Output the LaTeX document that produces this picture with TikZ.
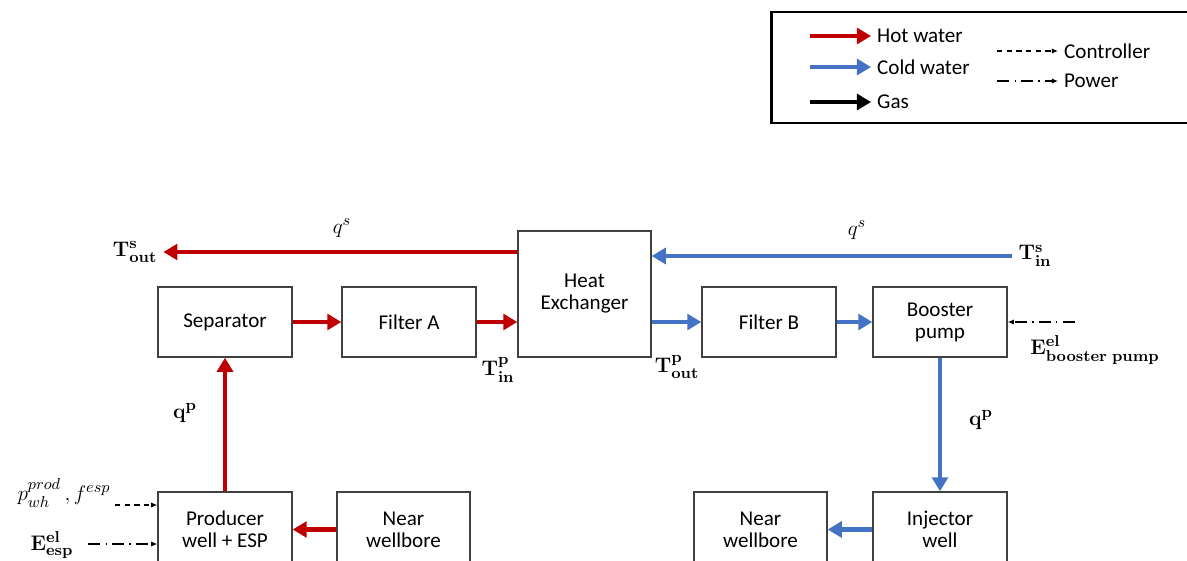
\documentclass[tikz,border=0pt]{standalone}
\usepackage[no-math]{fontspec}
\setmainfont{Carlito}
\usepackage{amsmath}
\usetikzlibrary{arrows.meta}

\definecolor{hotred}{RGB}{192,0,0}
\definecolor{coldblue}{RGB}{68,114,196}
\definecolor{boxline}{RGB}{64,64,64}

\begin{document}
\begin{tikzpicture}[x=0.02cm, y=-0.02cm,
    box/.style={draw=boxline, line width=0.8pt, fill=white, minimum width=2.68cm,
        minimum height=1.4cm, align=center, font=\fontsize{12}{12.5}\selectfont},
    hot/.style={draw=hotred, line width=2.4pt, -{Triangle[length=8pt,width=9pt]}},
    cold/.style={draw=coldblue, line width=2.4pt, -{Triangle[length=8pt,width=9pt]}},
    gas/.style={draw=black, line width=2.4pt, -{Triangle[length=8pt,width=9pt]}},
    ctrl/.style={draw=black, line width=0.8pt, dash pattern=on 3pt off 2.5pt, -{Latex[length=3.5pt,width=3pt]}},
    power/.style={draw=black, line width=0.8pt, dash pattern=on 7pt off 3pt on 0.6pt off 3pt, -{Latex[length=3.5pt,width=3pt]}},
    lbl/.style={font=\fontsize{13}{15}\selectfont},
    legtxt/.style={anchor=west, font=\fontsize{12}{14}\selectfont}]
    \useasboundingbox (0,0) rectangle (1187,561);

    % Legende
    \draw[line width=1.7pt] (771,12) rectangle (1240,123);
    \node[legtxt] (lhot) at (871,36) {Hot water};
    \node[legtxt] (lcold) at (871,67) {Cold water};
    \node[legtxt] (lgas) at (871,102) {Gas};
    \node[legtxt] (lctrl) at (1058,51) {Controller};
    \node[legtxt] (lpow) at (1058,81) {Power};
    \coordinate (lhot0) at (810,36);
    \coordinate (lcold0) at (810,67);
    \coordinate (lgas0) at (810,102);
    \coordinate (lctrl0) at (997,51);
    \coordinate (lpow0) at (997,81);
    \draw[hot] (lhot0) -- (lhot.west);
    \draw[cold] (lcold0) -- (lcold.west);
    \draw[gas] (lgas0) -- (lgas.west);
    \draw[ctrl] (lctrl0) -- (lctrl.west);
    \draw[power] (lpow0) -- (lpow.west);

    % Bloecke
    \node[box] (sep) at (225,322) {Separator};
    \node[box] (filtA) at (409,322) {Filter A};
    \node[box, minimum width=2.66cm, minimum height=2.52cm] (hx) at (584.5,294) {Heat\\Exchanger};
    \node[box] (filtB) at (769,322) {Filter B};
    \node[box] (boost) at (940,322) {Booster\\pump};
    \node[box, minimum height=1.5cm] (prod) at (225,529.5) {Producer\\well + ESP};
    \node[box, minimum width=2.66cm, minimum height=1.5cm] (nwL) at (403.5,529.5) {Near\\wellbore};
    \node[box, minimum width=2.66cm, minimum height=1.5cm] (nwR) at (760.5,529.5) {Near\\wellbore};
    \node[box, minimum height=1.5cm] (inj) at (940,529.5) {Injector\\well};

    % Beschriftungen
    \node[lbl] (tsout) at (135,252) {$\mathbf{T}^{\mathbf{s}}_{\mathbf{out}}$};
    \node[lbl] (tsin) at (1035,256) {$\mathbf{T}^{\mathbf{s}}_{\mathbf{in}}$};
    \node[lbl] (qsL) at (342,228) {$q^{s}$};
    \node[lbl] (qsR) at (857,230) {$q^{s}$};
    \node[lbl] (tpin) at (498,370) {$\mathbf{T}^{\mathbf{p}}_{\mathbf{in}}$};
    \node[lbl] (tpout) at (677,367) {$\mathbf{T}^{\mathbf{p}}_{\mathbf{out}}$};
    \node[lbl] (qpL) at (185,413) {$\mathbf{q}^{\mathbf{p}}$};
    \node[lbl] (qpR) at (981,420) {$\mathbf{q}^{\mathbf{p}}$};
    \node[lbl] (ebp) at (1095,350) {$\mathbf{E}^{\mathbf{el}}_{\mathbf{booster\ pump}}$};
    \node[lbl] (pwh) at (64,493) {$p^{prod}_{wh}\,,f^{esp}$};
    \node[lbl] (eesp) at (52,545) {$\mathbf{E}^{\mathbf{el}}_{\mathbf{esp}}$};

    % Stroeme
    \draw[hot] (hx.west |- tsout) -- (tsout);
    \draw[cold] (tsin) -- (hx.east |- tsin);
    \draw[hot] (sep) -- (filtA);
    \draw[hot] (filtA) -- (hx.west |- filtA);
    \draw[cold] (hx.east |- filtB) -- (filtB);
    \draw[cold] (filtB) -- (boost);
    \draw[cold] (boost) -- (inj);
    \draw[hot] (prod) -- (sep);
    \draw[hot] (nwL) -- (prod);
    \draw[cold] (inj) -- (nwR);

    % Steuerung und Leistung
    \coordinate (bpin) at (1075,322);
    \coordinate (ctrlin) at (115,505);
    \coordinate (pwrin) at (88,544);
    \draw[power] (bpin) -- (boost);
    \draw[ctrl] (ctrlin) -- (prod.west |- ctrlin);
    \draw[power] (pwrin) -- (prod.west |- pwrin);
\end{tikzpicture}
\end{document}
